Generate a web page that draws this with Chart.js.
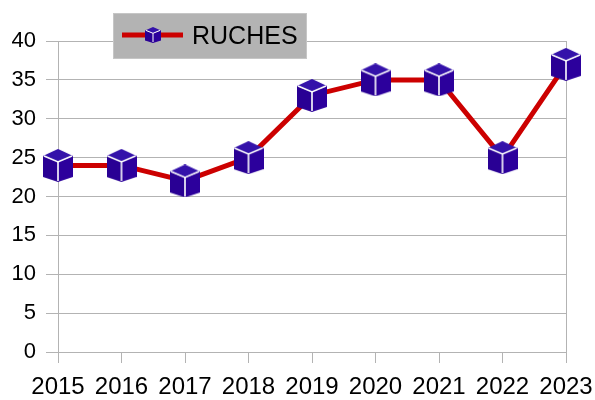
<!DOCTYPE html>
<html><head><meta charset="utf-8">
<script src="https://cdn.jsdelivr.net/npm/chart.js@4"></script>
<style>html,body{margin:0;padding:0;background:#fff;}#wrap{width:595px;height:400px;}</style>
</head><body><div id="wrap"><canvas id="c" width="595" height="400"></canvas></div>
<script>
const categories = ['2015','2016','2017','2018','2019','2020','2021','2022','2023'];
const ruches = [24, 24, 22, 25, 33, 35, 35, 25, 37];
const seriesLabel = 'RUCHES';
const yTicks = {min: 0, max: 40, step: 5};

function makeCube(w, h) {
  const cv = document.createElement('canvas');
  cv.width = w; cv.height = h;
  const g = cv.getContext('2d');
  const k = h / 33;
  const a = 7*k, b = 13*k, d = 5*k;
  g.fillStyle = '#3412aa';
  g.beginPath(); g.moveTo(w/2, 0); g.lineTo(w, a); g.lineTo(w/2, b); g.lineTo(0, a); g.closePath(); g.fill();
  g.fillStyle = '#290094';
  g.beginPath(); g.moveTo(0, a); g.lineTo(w/2, b); g.lineTo(w/2, h); g.lineTo(0, h-d); g.closePath(); g.fill();
  g.fillStyle = '#2c009c';
  g.beginPath(); g.moveTo(w/2, b); g.lineTo(w, a); g.lineTo(w, h-d); g.lineTo(w/2, h); g.closePath(); g.fill();
  g.strokeStyle = '#ffffff'; g.lineWidth = Math.max(1, 1.6*k);
  g.beginPath(); g.moveTo(1, a); g.lineTo(w/2, b); g.lineTo(w-1, a); g.stroke();
  g.beginPath(); g.moveTo(w/2, b); g.lineTo(w/2, h-1); g.stroke();
  return cv;
}
const bigCube = makeCube(30, 33);
const smallCube = makeCube(16, 16);

const legendPlugin = {
  id: 'boxLegend',
  afterDraw(chart) {
    const ctx = chart.ctx;
    ctx.save();
    ctx.fillStyle = '#b3b3b3';
    ctx.fillRect(113, 13, 194, 46);
    ctx.strokeStyle = '#c6c6c6'; ctx.lineWidth = 1;
    ctx.strokeRect(113.5, 13.5, 193, 45);
    ctx.strokeStyle = '#cc0000'; ctx.lineWidth = 5;
    ctx.beginPath(); ctx.moveTo(122, 35); ctx.lineTo(183, 35); ctx.stroke();
    ctx.drawImage(smallCube, 145, 27);
    ctx.fillStyle = '#000';
    ctx.font = '25px "Liberation Sans", Arial, sans-serif';
    ctx.textBaseline = 'middle';
    ctx.fillText(chart.data.datasets[0].label, 192, 37);
    ctx.restore();
  }
};

new Chart(document.getElementById('c'), {
  type: 'line',
  data: {
    labels: categories,
    datasets: [{
      label: seriesLabel,
      data: ruches,
      borderColor: '#cc0000',
      borderWidth: 5,
      tension: 0,
      pointStyle: bigCube,
      pointRadius: 16,
      pointHoverRadius: 16
    }]
  },
  options: {
    responsive: false,
    animation: false,
    events: [],
    layout: {padding: {top: 41, right: 29, left: 0, bottom: 0}},
    plugins: {legend: {display: false}, tooltip: {enabled: false}},
    scales: {
      x: {
        offset: false,
        grid: {
          color: (c) => (c.index === 0 || c.index === categories.length - 1) ? '#b3b3b3' : 'rgba(0,0,0,0)',
          tickColor: '#b3b3b3',
          tickLength: 11,
          lineWidth: 1
        },
        border: {display: true, color: '#b3b3b3'},
        ticks: {color: '#000', font: {family: '"Liberation Sans", Arial, sans-serif', size: 24}, padding: 10, maxRotation: 0, autoSkip: false},
        afterFit: (s) => { s.height = 48; s.paddingRight = 0; s.paddingLeft = 0; }
      },
      y: {
        min: yTicks.min, max: yTicks.max,
        grid: {color: '#b3b3b3', tickColor: '#b3b3b3', tickLength: 12, lineWidth: 1},
        border: {display: true, color: '#b3b3b3'},
        ticks: {stepSize: yTicks.step, color: '#000', font: {family: '"Liberation Sans", Arial, sans-serif', size: 22}, padding: 10},
        afterFit: (s) => { s.width = 58; }
      }
    }
  },
  plugins: [legendPlugin]
});
</script></body></html>
